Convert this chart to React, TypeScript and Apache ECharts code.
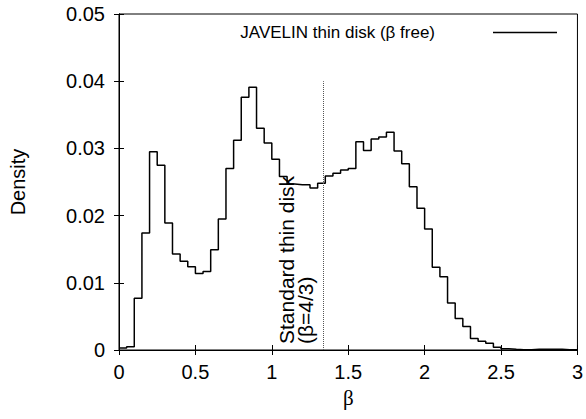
import React, { useEffect, useRef } from "react";
import * as echarts from "echarts";

// Histogram of beta, bins of width 0.05 starting at 0
const binStart = 0;
const binWidth = 0.05;
const density = [
  0.0003, 0.0005, 0.0077, 0.0174, 0.0295, 0.0275, 0.0189, 0.0143, 0.0132, 0.0124,
  0.0114, 0.0117, 0.0149, 0.0195, 0.027, 0.0312, 0.0376, 0.0391, 0.033, 0.0308,
  0.0284, 0.0258, 0.0247, 0.0246, 0.0246, 0.0241, 0.0248, 0.0259, 0.0263, 0.0268,
  0.027, 0.031, 0.0297, 0.0314, 0.0317, 0.0324, 0.0296, 0.0277, 0.0243, 0.0211,
  0.018, 0.0123, 0.0109, 0.007, 0.0047, 0.0035, 0.0017, 0.0013, 0.001, 0.0004,
  0.0002, 0.0001, 0.00005, 0.00005, 0.0001, 0.0001, 0.0001, 0.0001, 0.00005, 0.00005,
];

const xTicks = [0, 0.5, 1, 1.5, 2, 2.5, 3];
const yTicks = [0, 0.01, 0.02, 0.03, 0.04, 0.05];

const standardBeta = 4 / 3;
const standardTop = 0.04;
const seriesName = "JAVELIN thin disk (β free)";

const FONT = "'Liberation Sans', Arial, Helvetica, sans-serif";

export default function App() {
  const ref = useRef<HTMLDivElement>(null);

  useEffect(() => {
    document.body.style.margin = "0";
    if (!ref.current) return;
    const chart = echarts.init(ref.current, null, { renderer: "svg" });

    const stepData: [number, number][] = density.map((v, i) => [binStart + i * binWidth, v]);
    stepData.push([binStart + density.length * binWidth, density[density.length - 1]]);

    const axisCommon = {
      type: "value" as const,
      axisLine: { show: true, lineStyle: { color: "#000", width: 1 } },
      axisTick: { show: true, inside: true, length: 5, lineStyle: { color: "#000" } },
      splitLine: { show: false },
    };

    chart.setOption({
      animation: false,
      grid: {
        left: 119,
        right: 8,
        top: 14,
        bottom: 69,
        show: true,
        borderColor: "#000",
        borderWidth: 1,
      },
      legend: {
        show: true,
        data: [seriesName],
        right: 24,
        top: 19,
        align: "right",
        icon: "rect",
        itemWidth: 64,
        itemHeight: 1.5,
        textStyle: {
          fontFamily: FONT,
          fontSize: 17,
          color: "#000",
          padding: [0, 53, 0, 0],
        },
      },
      xAxis: [
        {
          ...axisCommon,
          min: xTicks[0],
          max: xTicks[xTicks.length - 1],
          interval: 0.5,
          position: "bottom",
          axisLabel: { fontFamily: FONT, fontSize: 20, color: "#000", margin: 12 },
          name: "β",
          nameLocation: "middle",
          nameGap: 37,
          nameTextStyle: { fontFamily: "'Liberation Serif', 'DejaVu Serif', serif", fontSize: 21, color: "#000" },
        },
        {
          ...axisCommon,
          min: xTicks[0],
          max: xTicks[xTicks.length - 1],
          interval: 0.5,
          position: "top",
          axisLabel: { show: false },
        },
      ],
      yAxis: [
        {
          ...axisCommon,
          min: yTicks[0],
          max: yTicks[yTicks.length - 1],
          interval: 0.01,
          position: "left",
          axisLabel: { fontFamily: FONT, fontSize: 20, color: "#000", margin: 14 },
          name: "Density",
          nameLocation: "middle",
          nameGap: 91,
          nameTextStyle: { fontFamily: FONT, fontSize: 20, color: "#000" },
        },
        {
          ...axisCommon,
          min: yTicks[0],
          max: yTicks[yTicks.length - 1],
          interval: 0.01,
          position: "right",
          axisLabel: { show: false },
        },
      ],
      series: [
        {
          name: seriesName,
          type: "line",
          step: "end",
          data: stepData,
          showSymbol: false,
          symbol: "none",
          lineStyle: { color: "#000", width: 1.5 },
          itemStyle: { color: "#000" },
          markLine: {
            silent: true,
            symbol: "none",
            lineStyle: { type: "dotted", color: "#555", width: 1 },
            label: {
              show: true,
              position: "insideStartTop",
              formatter: "Standard thin disk\n(β=4/3)",
              fontFamily: FONT,
              fontSize: 21,
              lineHeight: 19,
              color: "#000",
              distance: [6, 8],
            },
            data: [
              [
                { coord: [standardBeta, 0] },
                { coord: [standardBeta, standardTop] },
              ],
            ],
          },
        },
      ],
    });

    return () => chart.dispose();
  }, []);

  return <div ref={ref} style={{ width: 586, height: 419 }} />;
}
